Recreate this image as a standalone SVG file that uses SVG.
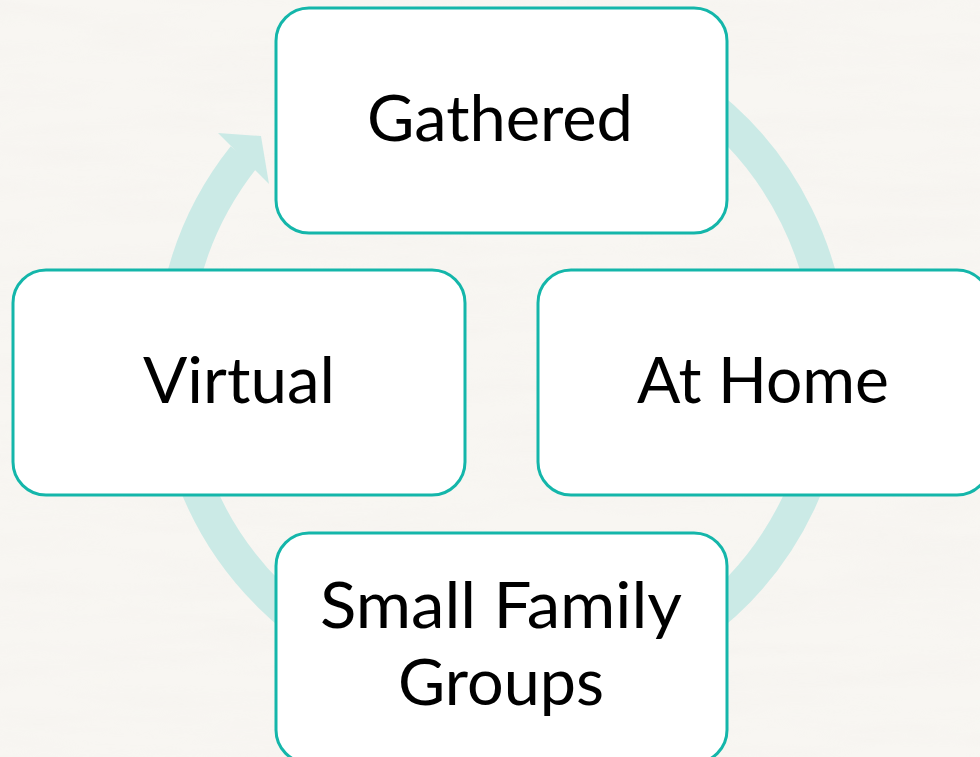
<svg xmlns="http://www.w3.org/2000/svg" width="980" height="757" viewBox="0 0 980 757">
  <defs>
    <style>
      .box { fill: #ffffff; stroke: #14b6aa; stroke-width: 3; }
      .ring { fill: none; stroke: #cbeae6; stroke-width: 34; stroke-linecap: butt; }
      .head { fill: #cbeae6; }
      .label { font-family: "Lato", "Liberation Sans", sans-serif; font-size: 64px; fill: #000000; text-anchor: middle; }
    </style>
    <!-- soft paper grain for the page background -->
    <filter id="paper" x="0" y="0" width="100%" height="100%">
      <feTurbulence type="fractalNoise" baseFrequency="0.006 0.045" numOctaves="3" seed="7" result="n"/>
      <feColorMatrix in="n" type="matrix"
        values="0 0 0 0 0.88
                0 0 0 0 0.86
                0 0 0 0 0.83
                0 0 0 -1.6 1.0"/>
    </filter>
  </defs>

  <!-- page -->
  <rect width="980" height="757" fill="#f8f6f2"/>
  <rect width="980" height="757" filter="url(#paper)" opacity="0.35"/>

  <!-- circular flow arrow running clockwise behind the blocks -->
  <g id="connectors">
    <path class="ring" d="M 389.0 52.4 A 329 329 0 1 1 244.0 156.8"/>
    <polygon class="head" points="218,133 261,136 269,184"/>
  </g>

  <g id="gathered">
    <rect class="box" x="276" y="8" width="451" height="225" rx="33" ry="33"/>
    <text class="label" x="500" y="141" textLength="266" lengthAdjust="spacingAndGlyphs">Gathered</text>
  </g>

  <g id="virtual">
    <rect class="box" x="13" y="270" width="452" height="225" rx="33" ry="33"/>
    <text class="label" x="239" y="403" textLength="192" lengthAdjust="spacingAndGlyphs">Virtual</text>
  </g>

  <g id="at-home">
    <rect class="box" x="538" y="270" width="452" height="225" rx="33" ry="33"/>
    <text class="label" x="763" y="403" textLength="252" lengthAdjust="spacingAndGlyphs">At Home</text>
  </g>

  <g id="small-family-groups">
    <rect class="box" x="276" y="533" width="451" height="230" rx="33" ry="33"/>
    <text class="label" x="501" y="628" textLength="362" lengthAdjust="spacingAndGlyphs">Small Family</text>
    <text class="label" x="501" y="705" textLength="206" lengthAdjust="spacingAndGlyphs">Groups</text>
  </g>
</svg>
